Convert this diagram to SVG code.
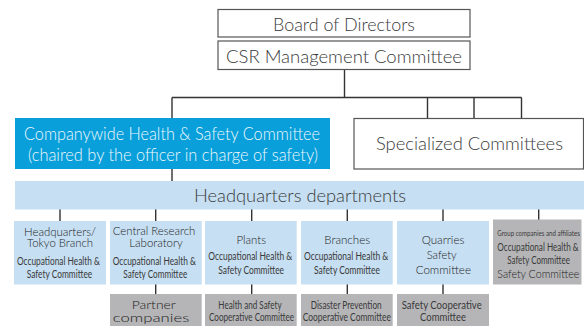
<svg xmlns="http://www.w3.org/2000/svg" width="584" height="326" viewBox="0 0 584 326">
  <style>
    .t { font-family: Lato, "Open Sans", "Liberation Sans", sans-serif; font-weight: 300; fill: #3a3a3a; text-anchor: middle; }
    .big { font-size: 17px; }
    .mid { font-size: 12px; fill: #1e1e1e; }
    .cond { font-size: 10.5px; font-weight: 400; }
    .tiny { font-size: 8px; font-weight: 400; }
    .white { fill: #eef8fd; }
    .frame { fill: #ffffff; stroke: #555555; stroke-width: 1.2; }
    .blue { fill: #089fda; }
    .pale { fill: #c6dff2; }
    .grey { fill: #b5b5b7; }
    .link { stroke: #333333; stroke-width: 1.4; fill: none; }
  </style>

  <!-- connectors -->
  <g id="connectors">
    <path class="link" d="M344.5 69.5 V97.5 M172 97.5 H521.5 M172 97.5 V181 M427.5 97.5 V118 M474 97.5 V118 M521.5 97.5 V118"/>
    <path class="link" d="M60 209 V221 M155.7 209 V221 M251.7 209 V221 M347.3 209 V221 M443 209 V221 M538.7 209 V221"/>
    <path class="link" d="M155.7 284 V294 M251.7 284 V294 M347.3 284 V294 M443 284 V294"/>
  </g>

  <g id="board">
    <rect class="frame" x="218" y="9.5" width="252" height="27.5"/>
    <text class="t big" x="344" y="30.5" textLength="142" lengthAdjust="spacingAndGlyphs">Board of Directors</text>
  </g>

  <g id="csr-committee">
    <rect class="frame" x="218" y="41" width="252" height="28.5"/>
    <text class="t big" x="344" y="63" textLength="236" lengthAdjust="spacingAndGlyphs">CSR Management Committee</text>
  </g>

  <g id="companywide">
    <rect class="blue" x="15" y="118" width="315" height="51"/>
    <text class="t big white" x="172" y="139.5" textLength="296" lengthAdjust="spacingAndGlyphs">Companywide Health &amp; Safety Committee</text>
    <text class="t big white" x="173" y="160.5" textLength="290" lengthAdjust="spacingAndGlyphs">(chaired by the officer in charge of safety)</text>
  </g>

  <g id="specialized">
    <rect class="frame" x="354" y="118.5" width="229.5" height="50.5"/>
    <text class="t big" x="469.5" y="150" textLength="187" lengthAdjust="spacingAndGlyphs">Specialized Committees</text>
  </g>

  <g id="hq-departments">
    <rect class="pale" x="15" y="181" width="569" height="28.5"/>
    <text class="t big" x="300" y="202" textLength="212" lengthAdjust="spacingAndGlyphs">Headquarters departments</text>
  </g>

  <g id="hq-tokyo">
    <rect class="pale" x="14" y="221" width="92" height="63.5"/>
    <text class="t mid" x="60" y="235.5" textLength="72" lengthAdjust="spacingAndGlyphs">Headquarters/</text>
    <text class="t mid" x="60" y="247" textLength="66" lengthAdjust="spacingAndGlyphs">Tokyo Branch</text>
    <text class="t cond" x="58.5" y="265" textLength="83" lengthAdjust="spacingAndGlyphs">Occupational Health &amp;</text>
    <text class="t cond" x="59.5" y="278" textLength="65.5" lengthAdjust="spacingAndGlyphs">Safety Committee</text>
  </g>

  <g id="research-lab">
    <rect class="pale" x="110" y="221" width="91.7" height="63.5"/>
    <text class="t mid" x="154" y="235" textLength="82.5" lengthAdjust="spacingAndGlyphs">Central Research</text>
    <text class="t mid" x="156" y="246.5" textLength="53.5" lengthAdjust="spacingAndGlyphs">Laboratory</text>
    <text class="t cond" x="154.3" y="265" textLength="83.3" lengthAdjust="spacingAndGlyphs">Occupational Health &amp;</text>
    <text class="t cond" x="155.3" y="277.5" textLength="64" lengthAdjust="spacingAndGlyphs">Safety Committee</text>
  </g>

  <g id="plants">
    <rect class="pale" x="205" y="221" width="91.7" height="63.5"/>
    <text class="t mid" x="251.3" y="243.5" textLength="29.5" lengthAdjust="spacingAndGlyphs">Plants</text>
    <text class="t cond" x="250.3" y="259.5" textLength="84" lengthAdjust="spacingAndGlyphs">Occupational Health &amp;</text>
    <text class="t cond" x="251.2" y="273.5" textLength="65.7" lengthAdjust="spacingAndGlyphs">Safety Committee</text>
  </g>

  <g id="branches">
    <rect class="pale" x="301" y="221" width="91.7" height="63.5"/>
    <text class="t mid" x="347.2" y="243.5" textLength="45.7" lengthAdjust="spacingAndGlyphs">Branches</text>
    <text class="t cond" x="346.2" y="259.5" textLength="84.3" lengthAdjust="spacingAndGlyphs">Occupational Health &amp;</text>
    <text class="t cond" x="347" y="273.5" textLength="66" lengthAdjust="spacingAndGlyphs">Safety Committee</text>
  </g>

  <g id="quarries">
    <rect class="pale" x="397" y="221" width="92" height="63.5"/>
    <text class="t mid" x="443" y="243.5" textLength="42.7" lengthAdjust="spacingAndGlyphs">Quarries</text>
    <text class="t mid" x="441.7" y="259" textLength="30" lengthAdjust="spacingAndGlyphs">Safety</text>
    <text class="t mid" x="443.3" y="273.5" textLength="55.3" lengthAdjust="spacingAndGlyphs">Committee</text>
  </g>

  <g id="group-companies">
    <rect class="grey" x="493" y="219.5" width="88.5" height="65"/>
    <text class="t tiny" x="538.6" y="236" textLength="82.7" lengthAdjust="spacingAndGlyphs">Group companies and affiliates</text>
    <text class="t cond" x="538" y="251" textLength="81.3" lengthAdjust="spacingAndGlyphs">Occupational Health &amp;</text>
    <text class="t cond" x="538.6" y="263.5" textLength="62.7" lengthAdjust="spacingAndGlyphs">Safety Committee</text>
    <text class="t mid" x="538.3" y="277.5" textLength="82" lengthAdjust="spacingAndGlyphs">Safety Committee</text>
  </g>

  <g id="partner-companies">
    <rect class="grey" x="110" y="294" width="91.7" height="32"/>
    <text class="t mid" x="153.7" y="309" textLength="44" lengthAdjust="spacingAndGlyphs">Partner</text>
    <text class="t mid" x="151" y="321.5" textLength="76.6" lengthAdjust="spacingAndGlyphs">companies</text>
  </g>

  <g id="health-safety-coop">
    <rect class="grey" x="205" y="294" width="91.7" height="32"/>
    <text class="t cond" x="250" y="308.5" textLength="63.3" lengthAdjust="spacingAndGlyphs">Health and Safety</text>
    <text class="t cond" x="251.5" y="321" textLength="85" lengthAdjust="spacingAndGlyphs">Cooperative Committee</text>
  </g>

  <g id="disaster-prevention-coop">
    <rect class="grey" x="301" y="294" width="91.7" height="32"/>
    <text class="t cond" x="346.2" y="308.5" textLength="71" lengthAdjust="spacingAndGlyphs">Disaster Prevention</text>
    <text class="t cond" x="346.8" y="321" textLength="88.3" lengthAdjust="spacingAndGlyphs">Cooperative Committee</text>
  </g>

  <g id="safety-coop">
    <rect class="grey" x="397" y="294" width="92" height="32"/>
    <text class="t cond" x="441.7" y="308.5" textLength="80" lengthAdjust="spacingAndGlyphs">Safety Cooperative</text>
    <text class="t cond" x="443" y="321" textLength="46" lengthAdjust="spacingAndGlyphs">Committee</text>
  </g>
</svg>
